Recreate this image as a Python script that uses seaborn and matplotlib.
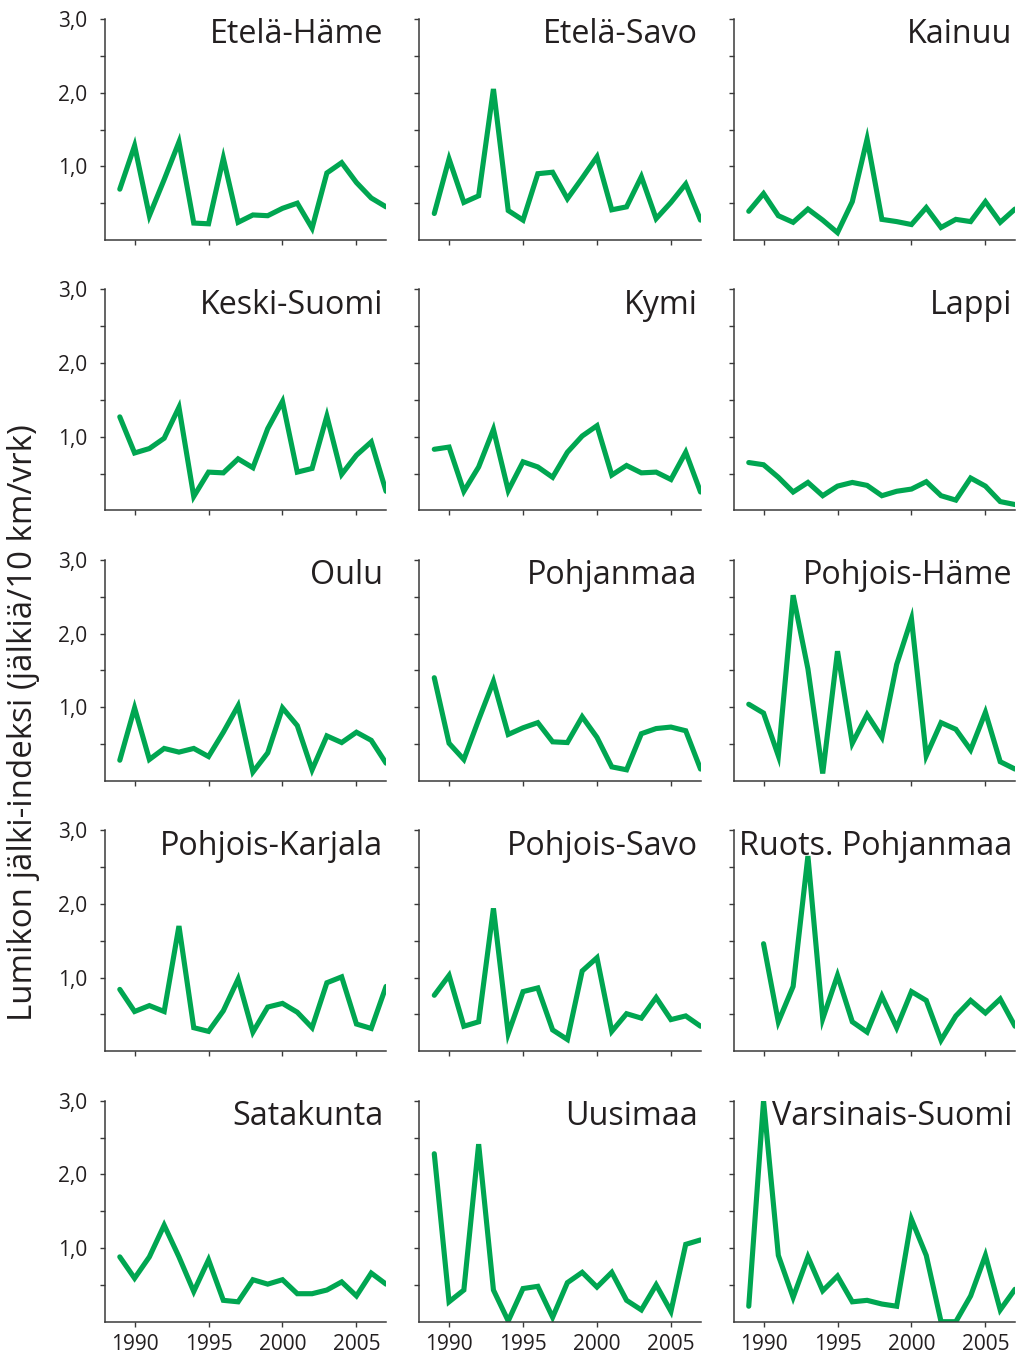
import numpy as np
import pandas as pd
import matplotlib
matplotlib.use('Agg')
import matplotlib.pyplot as plt
import seaborn as sns

# Data: snow track index per region, winters 1989-2007
years = list(range(1989, 2008))

regions = ['Etelä-Häme', 'Etelä-Savo', 'Kainuu',
           'Keski-Suomi', 'Kymi', 'Lappi',
           'Oulu', 'Pohjanmaa', 'Pohjois-Häme',
           'Pohjois-Karjala', 'Pohjois-Savo', 'Ruots. Pohjanmaa',
           'Satakunta', 'Uusimaa', 'Varsinais-Suomi']

etela_hame = [0.69, 1.28, 0.33, 0.82, 1.33, 0.23, 0.22, 1.11, 0.24, 0.34,
              0.33, 0.43, 0.50, 0.16, 0.91, 1.05, 0.78, 0.57, 0.45]
etela_savo = [0.36, 1.10, 0.51, 0.60, 2.05, 0.40, 0.27, 0.90, 0.92, 0.56,
              0.84, 1.13, 0.41, 0.45, 0.86, 0.29, 0.51, 0.76, 0.27]
kainuu = [0.39, 0.63, 0.33, 0.24, 0.42, 0.27, 0.10, 0.52, 1.37, 0.28,
          0.25, 0.21, 0.44, 0.17, 0.28, 0.25, 0.52, 0.24, 0.42]
keski_suomi = [1.27, 0.78, 0.84, 0.98, 1.40, 0.19, 0.52, 0.51, 0.70, 0.58,
               1.11, 1.48, 0.52, 0.57, 1.28, 0.49, 0.75, 0.93, 0.26]
kymi = [0.83, 0.86, 0.26, 0.59, 1.10, 0.27, 0.66, 0.59, 0.45, 0.79,
        1.01, 1.15, 0.48, 0.61, 0.51, 0.52, 0.42, 0.79, 0.25]
lappi = [0.65, 0.62, 0.45, 0.25, 0.38, 0.20, 0.33, 0.38, 0.34, 0.20,
         0.26, 0.29, 0.39, 0.20, 0.14, 0.44, 0.33, 0.12, 0.08]
oulu = [0.28, 0.99, 0.29, 0.44, 0.39, 0.44, 0.33, 0.66, 1.02, 0.12,
        0.38, 0.99, 0.75, 0.15, 0.61, 0.52, 0.66, 0.55, 0.24]
pohjanmaa = [1.40, 0.51, 0.29, 0.83, 1.35, 0.63, 0.72, 0.79, 0.53, 0.52,
             0.87, 0.59, 0.19, 0.15, 0.64, 0.71, 0.73, 0.68, 0.16]
pohjois_hame = [1.04, 0.92, 0.34, 2.52, 1.52, 0.10, 1.76, 0.51, 0.90, 0.59,
                1.58, 2.20, 0.34, 0.79, 0.70, 0.42, 0.93, 0.26, 0.16]
pohjois_karjala = [0.84, 0.54, 0.62, 0.54, 1.70, 0.32, 0.27, 0.55, 0.98, 0.26,
                   0.60, 0.65, 0.53, 0.32, 0.93, 1.01, 0.37, 0.31, 0.88]
pohjois_savo = [0.76, 1.03, 0.34, 0.40, 1.94, 0.24, 0.81, 0.86, 0.29, 0.16,
                1.09, 1.27, 0.27, 0.51, 0.45, 0.73, 0.43, 0.48, 0.34]
ruots_pohjanmaa = [np.nan, 1.46, 0.40, 0.88, 2.65, 0.44, 1.03, 0.40, 0.26, 0.75,
                   0.32, 0.81, 0.69, 0.15, 0.48, 0.69, 0.52, 0.71, 0.34]
satakunta = [0.88, 0.59, 0.88, 1.31, 0.88, 0.41, 0.84, 0.29, 0.27, 0.57,
             0.51, 0.57, 0.38, 0.38, 0.43, 0.54, 0.35, 0.66, 0.51]
uusimaa = [2.28, 0.27, 0.43, 2.41, 0.43, 0.01, 0.45, 0.48, 0.06, 0.53,
           0.67, 0.47, 0.67, 0.29, 0.16, 0.50, 0.14, 1.05, 1.11]
varsinais_suomi = [0.21, 3.00, 0.90, 0.33, 0.88, 0.42, 0.62, 0.27, 0.29, 0.24,
                   0.21, 1.39, 0.90, 0.00, 0.00, 0.35, 0.90, 0.16, 0.44]

series = [etela_hame, etela_savo, kainuu, keski_suomi, kymi, lappi,
          oulu, pohjanmaa, pohjois_hame, pohjois_karjala, pohjois_savo,
          ruots_pohjanmaa, satakunta, uusimaa, varsinais_suomi]

df = pd.DataFrame({
    'Vuosi': np.tile(years, len(regions)),
    'Alue': np.repeat(regions, len(years)),
    'Indeksi': np.concatenate(series),
})

sns.set_style('ticks')
plt.rcParams['font.family'] = ['Open Sans', 'DejaVu Sans']

green = '#00a651'
axis_col = '#3a3a3a'
text_col = '#231f20'

fig, axes = plt.subplots(5, 3, figsize=(10.29, 13.56), dpi=100,
                         sharex=True, sharey=True)
fig.subplots_adjust(left=105 / 1029, right=1015 / 1029,
                    top=1 - 19 / 1356, bottom=1 - 1321.7 / 1356,
                    wspace=0.119, hspace=0.2236)

for i, (ax, name) in enumerate(zip(axes.flat, regions)):
    sub = df[df['Alue'] == name]
    sns.lineplot(data=sub, x='Vuosi', y='Indeksi', ax=ax, color=green,
                 linewidth=3.7, solid_joinstyle='miter')
    ax.set(xlabel='', ylabel='')
    ax.set_xlim(1988, 2007)
    ax.set_ylim(0, 3.0)
    ax.set_xticks([1990, 1995, 2000, 2005])
    ax.set_yticks([1, 2, 3])
    ax.set_yticks([0.5, 1.5, 2.5], minor=True)
    ax.set_yticklabels(['1,0', '2,0', '3,0'])
    for side in ['top', 'right']:
        ax.spines[side].set_visible(False)
    for side in ['left', 'bottom']:
        ax.spines[side].set_color(axis_col)
        ax.spines[side].set_linewidth(1.1)
    ax.tick_params(axis='both', which='both', direction='out', length=3.8,
                   width=1.0, color=axis_col, labelsize=15, labelcolor=text_col)
    ax.tick_params(axis='y', which='both', pad=9)
    ax.tick_params(axis='x', which='both', pad=5)
    row, col = divmod(i, 3)
    ax.tick_params(labelleft=(col == 0), labelbottom=(row == 4))
    ax.text(0.99, 0.89, name, transform=ax.transAxes, ha='right',
            va='baseline', fontsize=23.2, color=text_col)

fig.text(24 / 1029, 1 - 723 / 1356, 'Lumikon jälki-indeksi (jälkiä/10 km/vrk)',
         rotation=90, ha='center', va='center', fontsize=23.8, color=text_col)

plt.savefig('out.png', dpi=100)
